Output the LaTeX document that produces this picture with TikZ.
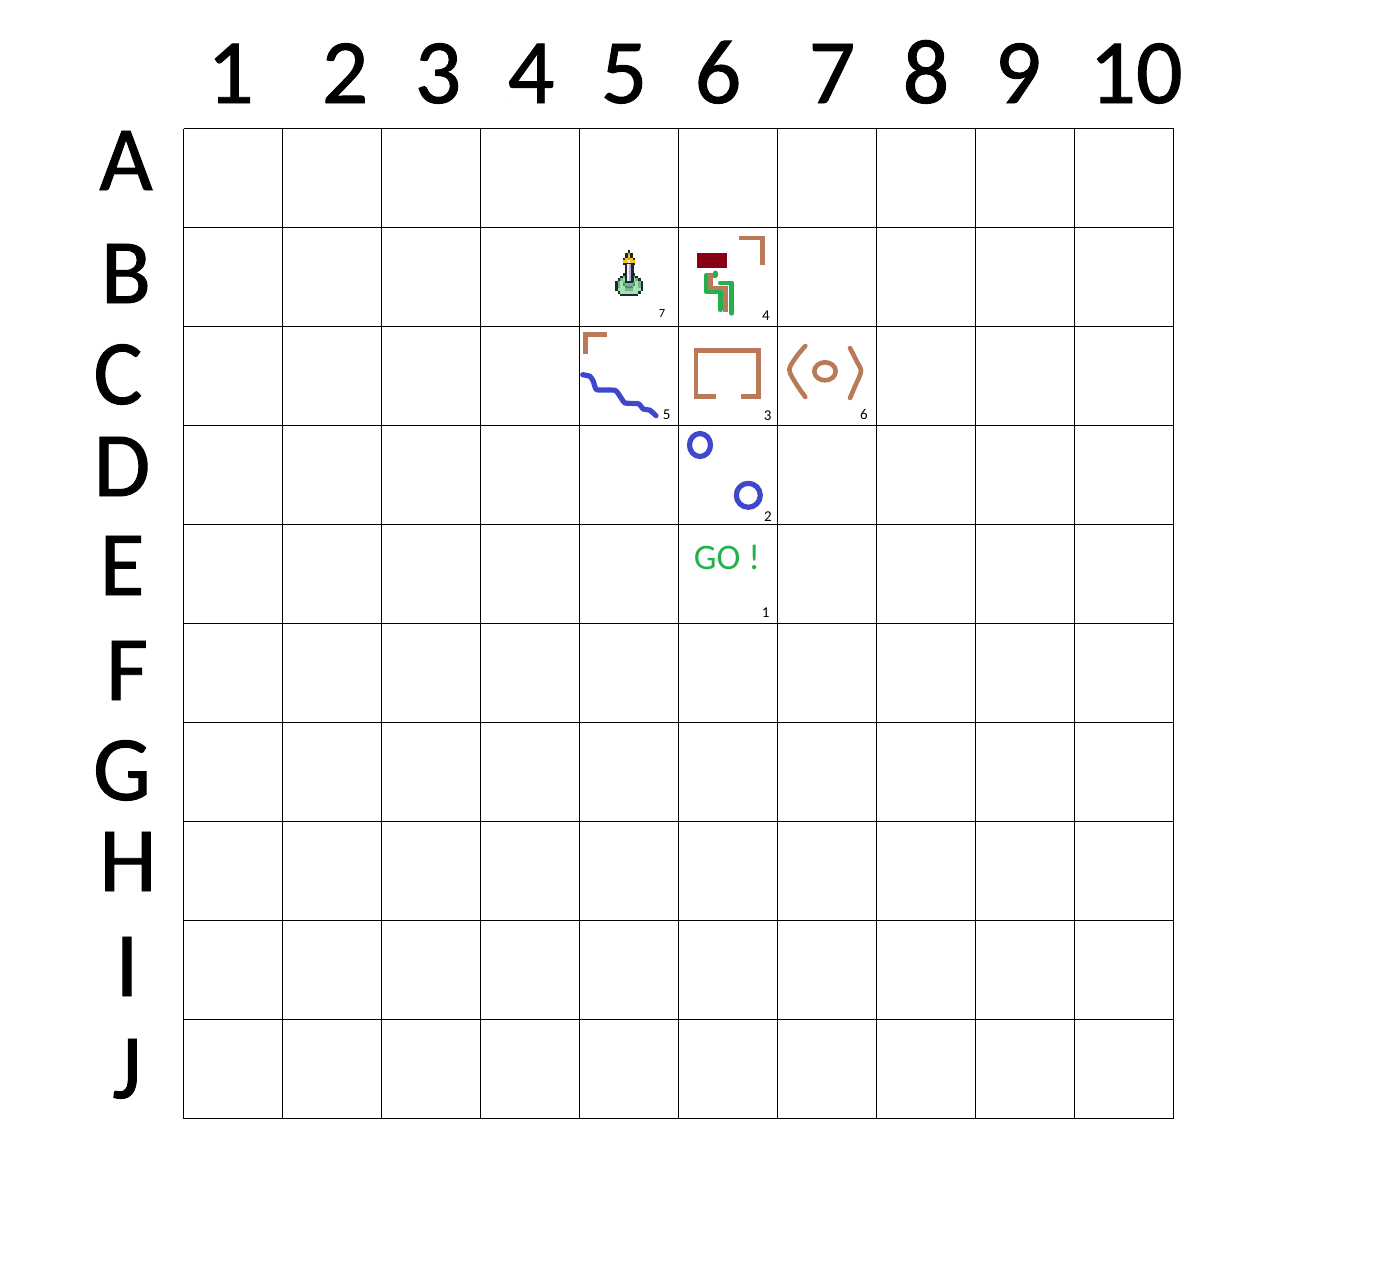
\documentclass[tikz,border=0pt]{standalone}
\usepackage{fontspec}
\setmainfont{Carlito}
\newfontfamily\heavyface[FakeBold=1]{Carlito}
\definecolor{brownpen}{HTML}{B97A57}
\definecolor{greenpen}{HTML}{22B14C}
\definecolor{bluepen}{HTML}{3F48CC}
\definecolor{redblock}{HTML}{880015}
\definecolor{spr.}{HTML}{FFFFFF}
\definecolor{sprk}{HTML}{1D2B26}
\definecolor{spry}{HTML}{F8C820}
\definecolor{spro}{HTML}{F89000}
\definecolor{sprw}{HTML}{F0F0FF}
\definecolor{sprl}{HTML}{B8A8E8}
\definecolor{sprg}{HTML}{A8E0B0}
\definecolor{sprm}{HTML}{70B888}
\definecolor{sprd}{HTML}{4F8F6F}
\tikzset{
  gridline/.style={draw=black,line width=1pt},
  bigtext/.style={inner sep=0pt,anchor=base,font=\heavyface\fontsize{92}{92}\selectfont},
  smalltext/.style={inner sep=0pt,anchor=base,font=\fontsize{15}{16}\selectfont},
  tinytext/.style={inner sep=0pt,anchor=base,font=\fontsize{12.5}{13}\selectfont},
  brownstroke/.style={draw=brownpen,line width=4.6pt},
  brownround/.style={draw=brownpen,line width=4.6pt,line cap=round,line join=round},
  greenstroke/.style={draw=greenpen,line width=4.8pt,line cap=round,line join=round},
  bluestroke/.style={draw=bluepen,line width=5.2pt,line cap=round,line join=round},
}
\begin{document}
\begin{tikzpicture}[x=1pt,y=-1pt]
\useasboundingbox (0,0) rectangle (1397,1277);
% grid
\foreach \k in {0,...,10}{
  \draw[gridline] ({183.5+99*\k},128.5) -- ({183.5+99*\k},1118.5);
  \draw[gridline] (183.5,{128.5+99*\k}) -- (1173.5,{128.5+99*\k});
}
% column heads
\foreach \t/\cx in {1/230.5,2/345,3/438,4/531,5/624,6/718,7/832,8/926,9/1018,10/1136}
  \node[bigtext] (col\t) at (\cx,103) {\t};
% row heads
\foreach \t/\cx/\by in {A/126/190,B/126/303,C/118/404,D/122/496,E/122/595,F/127/700,G/122/800,H/128/891,I/127/996,J/127/1098}
  \node[bigtext] (row\t) at (\cx,\by) {\t};
% sprite
\foreach \row [count=\r] in {
  {.,.,.,.,.,k,.,.,.,.,.},
  {.,.,.,.,k,o,k,.,.,.,.},
  {.,.,.,.,k,y,k,.,.,.,.},
  {.,.,.,k,y,o,y,k,.,.,.},
  {.,.,.,y,y,w,y,y,.,.,.},
  {.,.,.,k,k,k,k,k,.,.,.},
  {.,.,.,.,k,w,k,.,.,.,.},
  {.,.,.,.,k,l,k,.,.,.,.},
  {.,.,.,.,k,l,k,.,.,.,.},
  {.,.,.,k,k,l,k,k,.,.,.},
  {.,.,k,m,k,l,k,m,k,.,.},
  {.,k,m,g,k,l,k,g,m,k,.},
  {k,m,g,m,k,k,k,m,g,m,k},
  {k,m,g,d,m,m,m,d,g,m,k},
  {k,m,g,g,d,d,d,g,g,m,k},
  {k,g,g,g,m,m,m,g,g,g,k},
  {.,k,g,g,g,g,g,g,g,k,.},
  {.,.,k,k,k,k,k,k,k,.,.}}
  \foreach \c [count=\i] in \row
    \fill[spr\c] ({615+2.55*(\i-1)},{250+2.56*(\r-1)}) rectangle ++(2.6,2.6);
\fill[sprk] (624.5,263) rectangle (633.5,282);
\fill[sprw] (626.8,264) rectangle (629.2,280.5);
\fill[sprl] (629.2,264) rectangle (631.4,280.5);
% cell B6
\fill[redblock] (697,253) rectangle (727,268);
\draw[greenstroke] (715.3,273) -- (715.3,275.7) -- (706,275.7) -- (706,291.3) -- (720.3,291.3) -- (720.3,309.7);
\draw[greenstroke] (720.3,283) -- (731.7,283) -- (731.7,313.3);
\draw[brownstroke] (710.7,274) -- (710.7,288) -- (725.3,288) -- (725.3,312);
\draw[brownstroke] (738.5,238) -- (762.7,238) -- (762.7,265);
% cell C5
\draw[brownstroke] (606.7,334.3) -- (585.3,334.3) -- (585.3,353.7);
\draw[bluestroke] plot[smooth,tension=0.3] coordinates {(582.7,374.7) (590,376.3) (593.3,381.3) (596.7,389.7) (615,390.3) (620,396.3) (625,403) (638.3,403.7) (643.3,409) (650,410.3) (656,415.7)};
% cell C6
\draw[brownstroke] (716,396.7) -- (696,396.7) -- (696,350.3) -- (758.7,350.3) -- (758.7,396.7) -- (741,396.7);
% cell C7
\draw[brownround] plot[smooth,tension=0.5] coordinates {(805.3,346) (796.7,356.3) (789.3,369.7) (796.7,384.7) (805.3,397)};
\draw[brownround] plot[smooth,tension=0.5] coordinates {(850,348) (856.7,361.3) (861,371.3) (855,386.3) (850,398)};
\draw[brownstroke] (825,371.3) ellipse [x radius=10.7,y radius=9];
% cell D6
\draw[bluestroke] (700,445) ellipse [x radius=10.5,y radius=11.5];
\draw[bluestroke] (748.3,495.3) circle [radius=12];
% cell E6
\node[inner sep=0pt,anchor=base,text=greenpen,font=\fontsize{36}{36}\selectfont] (go) at (727,569.5) {GO !};
% small numbers
\node[tinytext] (n7) at (662,317) {7};
\node[smalltext] (n4) at (766,320.7) {4};
\node[smalltext] (n5) at (666.7,419) {5};
\node[smalltext] (n3) at (767.7,420.7) {3};
\node[smalltext] (n6) at (864,419) {6};
\node[smalltext] (n2) at (768,521) {2};
\node[smalltext] (n1) at (765.7,617.7) {1};
\end{tikzpicture}
\end{document}
